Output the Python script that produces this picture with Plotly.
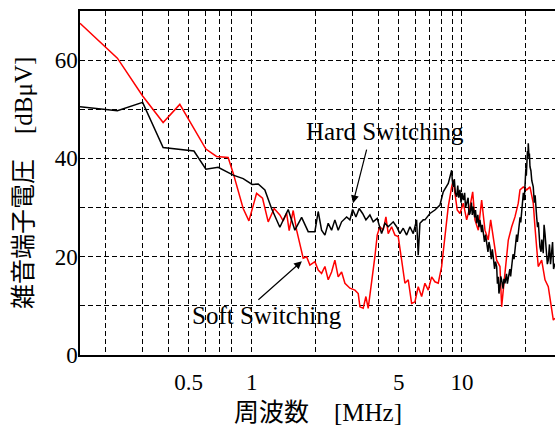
import math
import plotly.graph_objects as go

# ---- data (frequency in MHz, level in dBuV) ----
hard_freq = [0.152, 0.229, 0.302, 0.378, 0.53, 0.604, 0.691, 0.815, 0.909, 1.003, 1.072, 1.153,
             1.241, 1.359, 1.489, 1.602, 1.725, 1.854, 1.995, 2.069, 2.147, 2.227, 2.309, 2.396,
             2.484, 2.576, 2.674, 2.825, 2.929, 3.017, 3.128, 3.243, 3.366, 3.490, 3.646, 3.780,
             3.950, 4.145, 4.298, 4.457, 4.709, 4.887, 5.068, 5.254, 5.454, 5.654, 5.862, 6.084,
             6.193, 6.310, 6.542, 6.665, 7.040, 7.437, 7.856, 8.147, 8.607, 8.933, 9.0, 9.09,
             9.2, 9.30, 9.44, 9.55, 9.65, 9.78, 9.9, 10.0, 10.15, 10.3, 10.4, 10.53, 10.7, 10.8,
             10.92, 11.1, 11.2, 11.32, 11.5, 11.6, 11.75, 11.9, 12.05, 12.18, 12.4, 12.5, 12.63,
             12.8, 12.95, 13.11, 13.3, 13.45, 13.59, 13.8, 13.95, 14.09, 14.3, 14.45, 14.63,
             14.75, 14.89, 15.0, 15.17, 15.3, 15.45, 15.7, 15.85, 16.02, 16.3, 16.45, 16.62,
             16.9, 17.05, 17.25, 17.5, 17.7, 17.88, 18.2, 18.35, 18.54, 18.9, 19.05, 19.24, 19.6,
             19.8, 19.95, 20.15, 20.25, 20.33, 20.5, 20.6, 20.69, 20.85, 20.95, 21.08, 21.3,
             21.5, 21.85, 22.1, 22.3, 22.68, 22.9, 23.1, 23.51, 23.8, 24.0, 24.38, 24.6, 24.85,
             25.2, 25.5, 25.76, 26.1, 26.4, 26.74, 27.0, 27.3, 27.73]
hard_db = [50.5, 49.7, 51.4, 42.2, 41.5, 37.8, 38.2, 36.6, 35.9, 34.7, 34.8, 33.6,
           29.8, 26.0, 29.6, 25.4, 28.0, 25.1, 25.1, 29.2, 25.4, 24.4, 26.8, 25.4,
           27.5, 25.4, 27.1, 28.1, 27.5, 29.6, 28.1, 29.8, 28.8, 27.5, 28.5, 27.1,
           27.8, 24.7, 26.8, 26.1, 27.1, 26.1, 24.7, 25.8, 24.4, 26.1, 24.7, 27.5,
           20.3, 26.8, 27.5, 27.5, 28.8, 29.5, 30.5, 33.2, 34.9, 37.6, 35.5, 34.2,
           35.8, 33.0, 32.2, 34.5, 32.0, 33.6, 31.0, 33.0, 31.5, 33.0, 30.0, 30.9, 32.0, 28.5,
           28.8, 31.0, 28.5, 30.2, 28.0, 29.5, 26.8, 28.5, 26.0, 27.5, 25.0, 26.5, 24.7,
           23.0, 24.5, 22.7, 21.0, 23.0, 22.0, 19.5, 21.5, 20.0, 17.5, 19.0, 18.0,
           14.5, 15.9, 12.5, 13.9, 16.0, 15.3, 13.5, 15.5, 14.6, 16.5, 14.5, 15.9,
           17.5, 16.0, 18.6, 20.5, 19.5, 22.0, 24.5, 23.0, 25.4, 28.0, 27.0, 29.5, 33.0,
           31.5, 34.9, 38.0, 36.5, 39.7, 41.5, 40.0, 43.1, 40.5, 41.0, 38.3, 37.5,
           35.5, 34.2, 31.0, 32.5, 28.1, 26.0, 27.0, 22.0, 21.0, 23.5, 20.7, 26.5, 24.7,
           22.0, 18.5, 19.3, 22.5, 18.5, 20.7, 23.0, 17.5, 18.6]

soft_freq = [0.152, 0.229, 0.302, 0.378, 0.454, 0.604, 0.679, 0.771, 0.815, 0.909, 0.968, 1.053,
             1.124, 1.196, 1.277, 1.359, 1.409, 1.463, 1.505, 1.573, 1.633, 1.755, 1.822, 1.889,
             1.995, 2.069, 2.147, 2.227, 2.309, 2.396, 2.484, 2.576, 2.674, 2.773, 2.929, 3.094,
             3.208, 3.268, 3.388, 3.490, 3.579, 3.715, 3.851, 3.950, 4.068, 4.218, 4.346, 4.457,
             4.626, 4.797, 4.974, 5.163, 5.353, 5.550, 5.760, 5.972, 6.193, 6.429, 6.665, 6.911,
             7.173, 7.437, 7.711, 8.004, 8.299, 8.607, 8.933, 9.090, 9.262, 9.497, 9.783, 10.15,
             10.53, 10.92, 11.25, 11.53, 11.96, 12.41, 12.87, 13.34, 13.70, 14.09, 14.63, 15.17,
             15.45, 16.02, 16.62, 17.25, 17.88, 18.54, 18.89, 19.58, 20.33, 21.08, 21.85, 22.26,
             23.08, 23.96, 24.85, 25.76, 26.74, 27.22, 27.73]
soft_db = [67.5, 60.4, 52.7, 47.3, 51.0, 41.9, 40.4, 40.2, 37.0, 29.8, 27.3, 32.9,
           31.9, 27.1, 29.8, 28.5, 27.3, 28.9, 25.3, 29.4, 25.4, 19.7, 20.0, 18.3,
           19.0, 17.3, 16.6, 18.0, 15.3, 16.9, 19.3, 15.9, 16.9, 14.6, 13.6, 13.2,
           12.5, 9.8, 9.5, 11.9, 9.5, 14.6, 20.0, 24.4, 26.1, 25.4, 28.1, 24.7,
           26.1, 24.4, 24.1, 19.3, 14.6, 15.3, 10.5, 10.8, 13.9, 11.9, 14.6, 13.2,
           15.9, 14.9, 14.6, 18.0, 24.1, 30.2, 34.2, 35.6, 32.9, 29.5, 28.8, 30.9,
           27.5, 30.2, 33.2, 27.5, 25.4, 31.5, 25.4, 23.4, 27.5, 24.1, 19.3, 18.0,
           9.8, 16.6, 23.4, 26.1, 28.1, 30.9, 33.6, 34.2, 33.6, 34.2, 30.9, 26.1,
           18.0, 19.3, 15.3, 13.9, 9.8, 7.1, 7.5]

x_tick_vals = [0.2, 0.3, 0.4, 0.5, 0.6, 0.7, 0.8, 1, 2, 3, 4, 5, 6, 7, 8, 9, 10, 20]
x_tick_text = ["", "", "", "0.5", "", "", "", "1", "", "", "", "5", "", "", "", "", "10", ""]
y_tick_vals = [0, 10, 20, 30, 40, 50, 60]
y_tick_text = ["0", "", "20", "", "40", "", "60"]

SERIF = "Liberation Serif, Noto Sans CJK JP"

fig = go.Figure()
fig.add_trace(go.Scatter(x=soft_freq, y=soft_db, mode="lines",
                         line=dict(color="#ff0000", width=1.5), name="Soft Switching"))
fig.add_trace(go.Scatter(x=hard_freq, y=hard_db, mode="lines",
                         line=dict(color="#000000", width=1.5), name="Hard Switching"))

fig.update_layout(
    width=555, height=428,
    margin=dict(l=80, r=0, t=11, b=73),
    paper_bgcolor="white", plot_bgcolor="white",
    showlegend=False,
    font=dict(family=SERIF, size=23, color="black"),
)
fig.update_xaxes(
    type="log", range=[math.log10(0.152), math.log10(27.73)],
    tickvals=x_tick_vals, ticktext=x_tick_text, ticks="",
    ticklabelstandoff=6,
    showgrid=True, gridcolor="black", gridwidth=1, griddash="5px,3px",
    showline=True, linecolor="black", linewidth=1.5, mirror=True,
    zeroline=False, tickfont=dict(family=SERIF, size=23),
)
fig.update_yaxes(
    range=[0, 70], tickvals=y_tick_vals, ticktext=y_tick_text,
    ticks="inside", ticklen=4, tickcolor="black",
    ticklabelstandoff=-4,
    showgrid=True, gridcolor="black", gridwidth=1, griddash="5px,3px",
    showline=True, linecolor="black", linewidth=1.5,
    zeroline=False, tickfont=dict(family=SERIF, size=23),
)

# axis titles
fig.add_annotation(text="雑音端子電圧　[dBμV]", xref="paper", yref="paper",
                   x=-0.12, y=0.5, xanchor="center", yanchor="middle",
                   textangle=-90, showarrow=False,
                   font=dict(family=SERIF, size=25, color="black"))
fig.add_annotation(text="周波数　[MHz]", xref="paper", yref="paper",
                   x=0.5, y=-0.166, xanchor="center", yanchor="middle", showarrow=False,
                   font=dict(family=SERIF, size=25, color="black"))

# labels
fig.add_annotation(text="Hard Switching", x=math.log10(4.30), y=45.4, showarrow=False,
                   font=dict(family=SERIF, size=25, color="black"))
fig.add_annotation(text="Soft Switching", x=math.log10(1.179), y=8.1, showarrow=False,
                   font=dict(family=SERIF, size=25, color="black"))
# arrows
fig.add_annotation(text="", x=math.log10(3.03), y=30.9, ax=14, ay=-55,
                   showarrow=True, arrowhead=2, arrowsize=1.3, arrowwidth=1.2, arrowcolor="black")
fig.add_annotation(text="", x=math.log10(1.73), y=19.1, ax=-45, ay=40,
                   showarrow=True, arrowhead=2, arrowsize=1.3, arrowwidth=1.2, arrowcolor="black")

fig.write_html("out.html", config={"displayModeBar": False},
               post_script="document.body.style.margin='0';")
